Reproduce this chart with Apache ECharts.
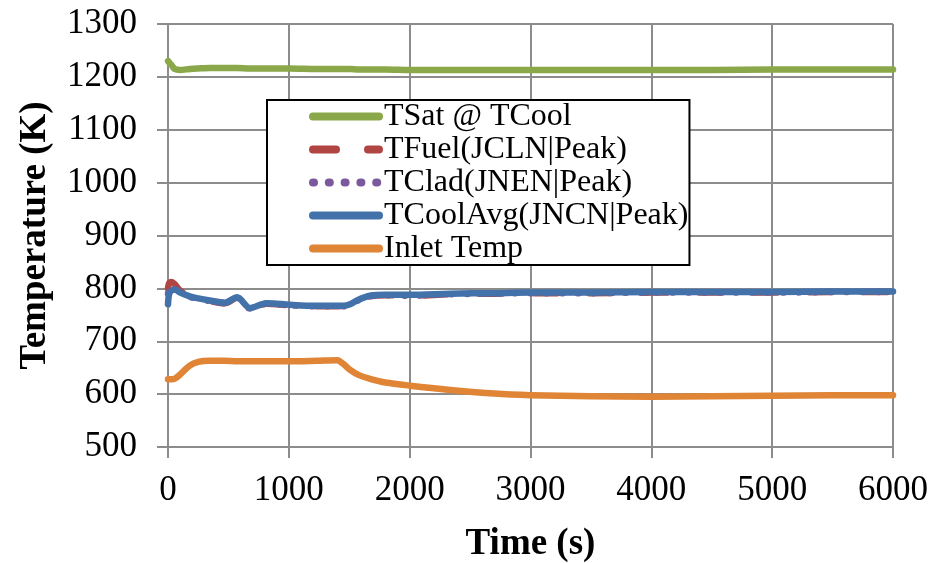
<!DOCTYPE html>
<html>
<head>
<meta charset="utf-8">
<script src="https://cdn.jsdelivr.net/npm/echarts@6/dist/echarts.min.js"></script>
<style>html,body{margin:0;padding:0;background:#fff;}#c{width:932px;height:563px;}</style>
</head>
<body>
<div id="c"></div>
<script>
const seriesNames = ['TSat @ TCool', 'TFuel(JCLN|Peak)', 'TClad(JNEN|Peak)', 'TCoolAvg(JNCN|Peak)', 'Inlet Temp'];
const time =      [0,    10,   30,   55,   100,  180,  250,  346,  470,  572,  677,  816,  1009, 1230, 1400, 1451, 1507, 1580, 1672, 1800, 2004, 2336, 2700, 3000, 3500, 4000, 4500, 5000, 5500, 6000];
const tSat =      [1230, 1227, 1222, 1215, 1213, 1215, 1216, 1217, 1217, 1217, 1216, 1216, 1216, 1215, 1215, 1215, 1215, 1214, 1214, 1214, 1213, 1213, 1213, 1213, 1213, 1213, 1213, 1214, 1214, 1214];
const tFuel =     [800,  810,  812,  808,  796,  785,  780,  776,  772,  782,  762,  771,  768,  766,  766,  766,  769,  778,  785,  787,  786,  789,  790,  791,  791,  792,  792,  792,  793,  793];
const tClad =     [790,  800,  804,  800,  793,  784,  780,  776,  772,  782,  762,  771,  768,  766,  766,  766,  769,  778,  785,  787,  786,  789,  790,  791,  791,  792,  792,  792,  793,  793];
const tCoolAvg =  [770,  790,  796,  798,  792,  785,  781,  777,  773,  783,  763,  772,  769,  767,  767,  767,  770,  779,  786,  788,  788,  790,  791,  792,  792,  793,  793,  793,  794,  794];
const inletTemp = [628,  628,  628,  629,  637,  654,  661,  663,  663,  662,  662,  662,  662,  663,  664,  657,  646,  636,  629,  622,  616,  608,  601,  598,  596,  595,  596,  597,  598,  598];
const xTicks = [0, 1000, 2000, 3000, 4000, 5000, 6000];
const yTicks = [500, 600, 700, 800, 900, 1000, 1100, 1200, 1300];

const colors = ['#8aa84a', '#b04544', '#7a5a9c', '#4372ab', '#e08435'];
const pairs = arr => time.map((t, i) => [t, arr[i]]);
const allVals = [tSat, tFuel, tClad, tCoolAvg, inletTemp];
const dashes = ['solid', [23, 32], [1, 14.8], 'solid', 'solid'];

const chart = echarts.init(document.getElementById('c'), null, {renderer: 'canvas'});
const gridColor = '#8c8c8c';
const font = 'Liberation Serif';
chart.setOption({
  animation: false,
  backgroundColor: '#fff',
  grid: {left: 168, right: 39, top: 24, bottom: 116, containLabel: false, outerBoundsMode: 'none'},
  xAxis: {
    type: 'value', min: xTicks[0], max: xTicks[xTicks.length - 1], interval: 1000,
    name: 'Time (s)', nameLocation: 'middle', nameGap: 79,
    nameTextStyle: {fontFamily: font, fontWeight: 'bold', fontSize: 37, color: '#000'},
    axisLine: {show: true, lineStyle: {color: gridColor, width: 2}},
    axisTick: {show: true, inside: false, length: 11, lineStyle: {color: gridColor, width: 2}},
    axisLabel: {fontFamily: font, fontSize: 35, color: '#000', margin: 26, formatter: v => String(v)},
    splitLine: {show: true, lineStyle: {color: gridColor, width: 2}}
  },
  yAxis: {
    type: 'value', min: yTicks[0], max: yTicks[yTicks.length - 1], interval: 100,
    name: 'Temperature (K)', nameLocation: 'middle', nameGap: 114, nameRotate: 90,
    nameTextStyle: {fontFamily: font, fontWeight: 'bold', fontSize: 37, color: '#000'},
    axisLine: {show: true, lineStyle: {color: gridColor, width: 2}},
    axisTick: {show: true, inside: false, length: 11, lineStyle: {color: gridColor, width: 2}},
    axisLabel: {fontFamily: font, fontSize: 35, color: '#000', margin: 31, formatter: v => String(v)},
    splitLine: {show: true, lineStyle: {color: gridColor, width: 2}}
  },
  legend: {
    orient: 'vertical', left: 267, top: 100,
    padding: [0, 1, 0, 42], itemGap: 0, itemWidth: 66, itemHeight: 14,
    backgroundColor: '#fff', borderColor: '#000', borderWidth: 2, borderRadius: 0,
    textStyle: {fontFamily: font, fontSize: 32, color: '#000', lineHeight: 33, padding: [0, 0, 0, 0]},
    itemStyle: {opacity: 0, borderWidth: 0},
    lineStyle: {width: 8, cap: 'round', opacity: 1},
    data: seriesNames
  },
  series: seriesNames.map((n, k) => ({
    name: n, type: 'line', data: pairs(allVals[k]), symbol: 'none', smooth: 0.3,
    lineStyle: {color: colors[k], width: 6.5, type: dashes[k], cap: 'round', join: 'round'},
    itemStyle: {color: colors[k]}
  }))
});
</script>
</body>
</html>
